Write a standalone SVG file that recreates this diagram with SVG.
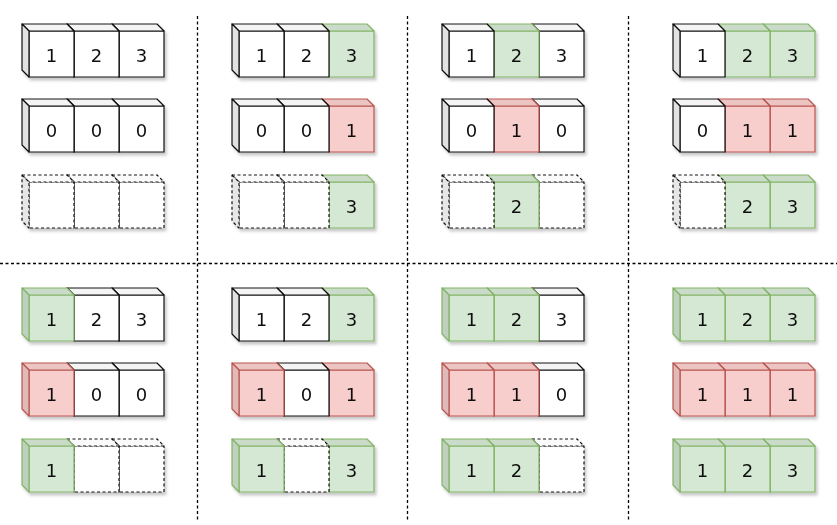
<svg xmlns="http://www.w3.org/2000/svg" xmlns:xlink="http://www.w3.org/1999/xlink" width="837" height="525" viewBox="0 0 837 525">
<style>
.sep{stroke:#000;stroke-width:1.3;fill:none;stroke-dasharray:3 2.5}
.lbl{font-family:"DejaVu Sans",sans-serif;font-size:18px;fill:#111;text-anchor:middle}
.row{filter:url(#sh)}
</style>
<defs>
<filter id="sh" x="-10%" y="-20%" width="130%" height="150%">
<feDropShadow dx="2" dy="3" stdDeviation="1.5" flood-color="#000" flood-opacity="0.22"/>
</filter>
<g id="cw" stroke="#111" stroke-width="1.2" stroke-linejoin="round">
<rect x="7" y="7" width="45" height="46" fill="#fff"/>
<polygon points="0,0 45,0 52,7 7,7" fill="#f4f4f4"/>
<polygon points="0,0 7,7 7,53 0,46" fill="#e2e2e2"/>
</g>
<g id="cg" stroke="#82b366" stroke-width="1.2" stroke-linejoin="round">
<rect x="7" y="7" width="45" height="46" fill="#d5e8d4"/>
<polygon points="0,0 45,0 52,7 7,7" fill="#cadcc9"/>
<polygon points="0,0 7,7 7,53 0,46" fill="#bfd1be"/>
</g>
<g id="cr" stroke="#b85450" stroke-width="1.2" stroke-linejoin="round">
<rect x="7" y="7" width="45" height="46" fill="#f8cecc"/>
<polygon points="0,0 45,0 52,7 7,7" fill="#ecc4c2"/>
<polygon points="0,0 7,7 7,53 0,46" fill="#dfbab8"/>
</g>
<g id="cd" stroke="#111" stroke-width="1.2" stroke-dasharray="3 2.5" stroke-linejoin="round">
<rect x="7" y="7" width="45" height="46" fill="#fff"/>
<polygon points="0,0 45,0 52,7 7,7" fill="#fafafa"/>
<polygon points="0,0 7,7 7,53 0,46" fill="#e6e6e6"/>
</g>
</defs>
<rect width="837" height="525" fill="#fff"/>
<g id="separators">
<line class="sep" x1="0" y1="263.5" x2="837" y2="263.5"/>
<line class="sep" x1="197.5" y1="16" x2="197.5" y2="521"/>
<line class="sep" x1="407.5" y1="16" x2="407.5" y2="521"/>
<line class="sep" x1="628.5" y1="16" x2="628.5" y2="521"/>
</g>

<!-- Panel 1 top -->
<g class="row">
<g id="p1a-3" transform="translate(112,24)"><use xlink:href="#cw"/><text class="lbl" x="29.5" y="38">3</text></g>
<g id="p1a-2" transform="translate(67,24)"><use xlink:href="#cw"/><text class="lbl" x="29.5" y="38">2</text></g>
<g id="p1a-1" transform="translate(22,24)"><use xlink:href="#cw"/><text class="lbl" x="29.5" y="38">1</text></g>
</g>
<g class="row">
<g id="p1b-3" transform="translate(112,99)"><use xlink:href="#cw"/><text class="lbl" x="29.5" y="38">0</text></g>
<g id="p1b-2" transform="translate(67,99)"><use xlink:href="#cw"/><text class="lbl" x="29.5" y="38">0</text></g>
<g id="p1b-1" transform="translate(22,99)"><use xlink:href="#cw"/><text class="lbl" x="29.5" y="38">0</text></g>
</g>
<g class="row">
<g id="p1c-3" transform="translate(112,175)"><use xlink:href="#cd"/></g>
<g id="p1c-2" transform="translate(67,175)"><use xlink:href="#cd"/></g>
<g id="p1c-1" transform="translate(22,175)"><use xlink:href="#cd"/></g>
</g>

<!-- Panel 2 top -->
<g class="row">
<g id="p2a-3" transform="translate(322,24)"><use xlink:href="#cg"/><text class="lbl" x="29.5" y="38">3</text></g>
<g id="p2a-2" transform="translate(277,24)"><use xlink:href="#cw"/><text class="lbl" x="29.5" y="38">2</text></g>
<g id="p2a-1" transform="translate(232,24)"><use xlink:href="#cw"/><text class="lbl" x="29.5" y="38">1</text></g>
</g>
<g class="row">
<g id="p2b-3" transform="translate(322,99)"><use xlink:href="#cr"/><text class="lbl" x="29.5" y="38">1</text></g>
<g id="p2b-2" transform="translate(277,99)"><use xlink:href="#cw"/><text class="lbl" x="29.5" y="38">0</text></g>
<g id="p2b-1" transform="translate(232,99)"><use xlink:href="#cw"/><text class="lbl" x="29.5" y="38">0</text></g>
</g>
<g class="row">
<g id="p2c-3" transform="translate(322,175)"><use xlink:href="#cg"/><text class="lbl" x="29.5" y="38">3</text></g>
<g id="p2c-2" transform="translate(277,175)"><use xlink:href="#cd"/></g>
<g id="p2c-1" transform="translate(232,175)"><use xlink:href="#cd"/></g>
</g>

<!-- Panel 3 top -->
<g class="row">
<g id="p3a-3" transform="translate(532,24)"><use xlink:href="#cw"/><text class="lbl" x="29.5" y="38">3</text></g>
<g id="p3a-2" transform="translate(487,24)"><use xlink:href="#cg"/><text class="lbl" x="29.5" y="38">2</text></g>
<g id="p3a-1" transform="translate(442,24)"><use xlink:href="#cw"/><text class="lbl" x="29.5" y="38">1</text></g>
</g>
<g class="row">
<g id="p3b-3" transform="translate(532,99)"><use xlink:href="#cw"/><text class="lbl" x="29.5" y="38">0</text></g>
<g id="p3b-2" transform="translate(487,99)"><use xlink:href="#cr"/><text class="lbl" x="29.5" y="38">1</text></g>
<g id="p3b-1" transform="translate(442,99)"><use xlink:href="#cw"/><text class="lbl" x="29.5" y="38">0</text></g>
</g>
<g class="row">
<g id="p3c-3" transform="translate(532,175)"><use xlink:href="#cd"/></g>
<g id="p3c-2" transform="translate(487,175)"><use xlink:href="#cg"/><text class="lbl" x="29.5" y="38">2</text></g>
<g id="p3c-1" transform="translate(442,175)"><use xlink:href="#cd"/></g>
</g>

<!-- Panel 4 top -->
<g class="row">
<g id="p4a-3" transform="translate(763,24)"><use xlink:href="#cg"/><text class="lbl" x="29.5" y="38">3</text></g>
<g id="p4a-2" transform="translate(718,24)"><use xlink:href="#cg"/><text class="lbl" x="29.5" y="38">2</text></g>
<g id="p4a-1" transform="translate(673,24)"><use xlink:href="#cw"/><text class="lbl" x="29.5" y="38">1</text></g>
</g>
<g class="row">
<g id="p4b-3" transform="translate(763,99)"><use xlink:href="#cr"/><text class="lbl" x="29.5" y="38">1</text></g>
<g id="p4b-2" transform="translate(718,99)"><use xlink:href="#cr"/><text class="lbl" x="29.5" y="38">1</text></g>
<g id="p4b-1" transform="translate(673,99)"><use xlink:href="#cw"/><text class="lbl" x="29.5" y="38">0</text></g>
</g>
<g class="row">
<g id="p4c-3" transform="translate(763,175)"><use xlink:href="#cg"/><text class="lbl" x="29.5" y="38">3</text></g>
<g id="p4c-2" transform="translate(718,175)"><use xlink:href="#cg"/><text class="lbl" x="29.5" y="38">2</text></g>
<g id="p4c-1" transform="translate(673,175)"><use xlink:href="#cd"/></g>
</g>

<!-- Panel 5 bottom -->
<g class="row">
<g id="p5a-3" transform="translate(112,288)"><use xlink:href="#cw"/><text class="lbl" x="29.5" y="38">3</text></g>
<g id="p5a-2" transform="translate(67,288)"><use xlink:href="#cw"/><text class="lbl" x="29.5" y="38">2</text></g>
<g id="p5a-1" transform="translate(22,288)"><use xlink:href="#cg"/><text class="lbl" x="29.5" y="38">1</text></g>
</g>
<g class="row">
<g id="p5b-3" transform="translate(112,363)"><use xlink:href="#cw"/><text class="lbl" x="29.5" y="38">0</text></g>
<g id="p5b-2" transform="translate(67,363)"><use xlink:href="#cw"/><text class="lbl" x="29.5" y="38">0</text></g>
<g id="p5b-1" transform="translate(22,363)"><use xlink:href="#cr"/><text class="lbl" x="29.5" y="38">1</text></g>
</g>
<g class="row">
<g id="p5c-3" transform="translate(112,439)"><use xlink:href="#cd"/></g>
<g id="p5c-2" transform="translate(67,439)"><use xlink:href="#cd"/></g>
<g id="p5c-1" transform="translate(22,439)"><use xlink:href="#cg"/><text class="lbl" x="29.5" y="38">1</text></g>
</g>

<!-- Panel 6 bottom -->
<g class="row">
<g id="p6a-3" transform="translate(322,288)"><use xlink:href="#cg"/><text class="lbl" x="29.5" y="38">3</text></g>
<g id="p6a-2" transform="translate(277,288)"><use xlink:href="#cw"/><text class="lbl" x="29.5" y="38">2</text></g>
<g id="p6a-1" transform="translate(232,288)"><use xlink:href="#cw"/><text class="lbl" x="29.5" y="38">1</text></g>
</g>
<g class="row">
<g id="p6b-3" transform="translate(322,363)"><use xlink:href="#cr"/><text class="lbl" x="29.5" y="38">1</text></g>
<g id="p6b-2" transform="translate(277,363)"><use xlink:href="#cw"/><text class="lbl" x="29.5" y="38">0</text></g>
<g id="p6b-1" transform="translate(232,363)"><use xlink:href="#cr"/><text class="lbl" x="29.5" y="38">1</text></g>
</g>
<g class="row">
<g id="p6c-3" transform="translate(322,439)"><use xlink:href="#cg"/><text class="lbl" x="29.5" y="38">3</text></g>
<g id="p6c-2" transform="translate(277,439)"><use xlink:href="#cd"/></g>
<g id="p6c-1" transform="translate(232,439)"><use xlink:href="#cg"/><text class="lbl" x="29.5" y="38">1</text></g>
</g>

<!-- Panel 7 bottom -->
<g class="row">
<g id="p7a-3" transform="translate(532,288)"><use xlink:href="#cw"/><text class="lbl" x="29.5" y="38">3</text></g>
<g id="p7a-2" transform="translate(487,288)"><use xlink:href="#cg"/><text class="lbl" x="29.5" y="38">2</text></g>
<g id="p7a-1" transform="translate(442,288)"><use xlink:href="#cg"/><text class="lbl" x="29.5" y="38">1</text></g>
</g>
<g class="row">
<g id="p7b-3" transform="translate(532,363)"><use xlink:href="#cw"/><text class="lbl" x="29.5" y="38">0</text></g>
<g id="p7b-2" transform="translate(487,363)"><use xlink:href="#cr"/><text class="lbl" x="29.5" y="38">1</text></g>
<g id="p7b-1" transform="translate(442,363)"><use xlink:href="#cr"/><text class="lbl" x="29.5" y="38">1</text></g>
</g>
<g class="row">
<g id="p7c-3" transform="translate(532,439)"><use xlink:href="#cd"/></g>
<g id="p7c-2" transform="translate(487,439)"><use xlink:href="#cg"/><text class="lbl" x="29.5" y="38">2</text></g>
<g id="p7c-1" transform="translate(442,439)"><use xlink:href="#cg"/><text class="lbl" x="29.5" y="38">1</text></g>
</g>

<!-- Panel 8 bottom -->
<g class="row">
<g id="p8a-3" transform="translate(763,288)"><use xlink:href="#cg"/><text class="lbl" x="29.5" y="38">3</text></g>
<g id="p8a-2" transform="translate(718,288)"><use xlink:href="#cg"/><text class="lbl" x="29.5" y="38">2</text></g>
<g id="p8a-1" transform="translate(673,288)"><use xlink:href="#cg"/><text class="lbl" x="29.5" y="38">1</text></g>
</g>
<g class="row">
<g id="p8b-3" transform="translate(763,363)"><use xlink:href="#cr"/><text class="lbl" x="29.5" y="38">1</text></g>
<g id="p8b-2" transform="translate(718,363)"><use xlink:href="#cr"/><text class="lbl" x="29.5" y="38">1</text></g>
<g id="p8b-1" transform="translate(673,363)"><use xlink:href="#cr"/><text class="lbl" x="29.5" y="38">1</text></g>
</g>
<g class="row">
<g id="p8c-3" transform="translate(763,439)"><use xlink:href="#cg"/><text class="lbl" x="29.5" y="38">3</text></g>
<g id="p8c-2" transform="translate(718,439)"><use xlink:href="#cg"/><text class="lbl" x="29.5" y="38">2</text></g>
<g id="p8c-1" transform="translate(673,439)"><use xlink:href="#cg"/><text class="lbl" x="29.5" y="38">1</text></g>
</g>
</svg>
